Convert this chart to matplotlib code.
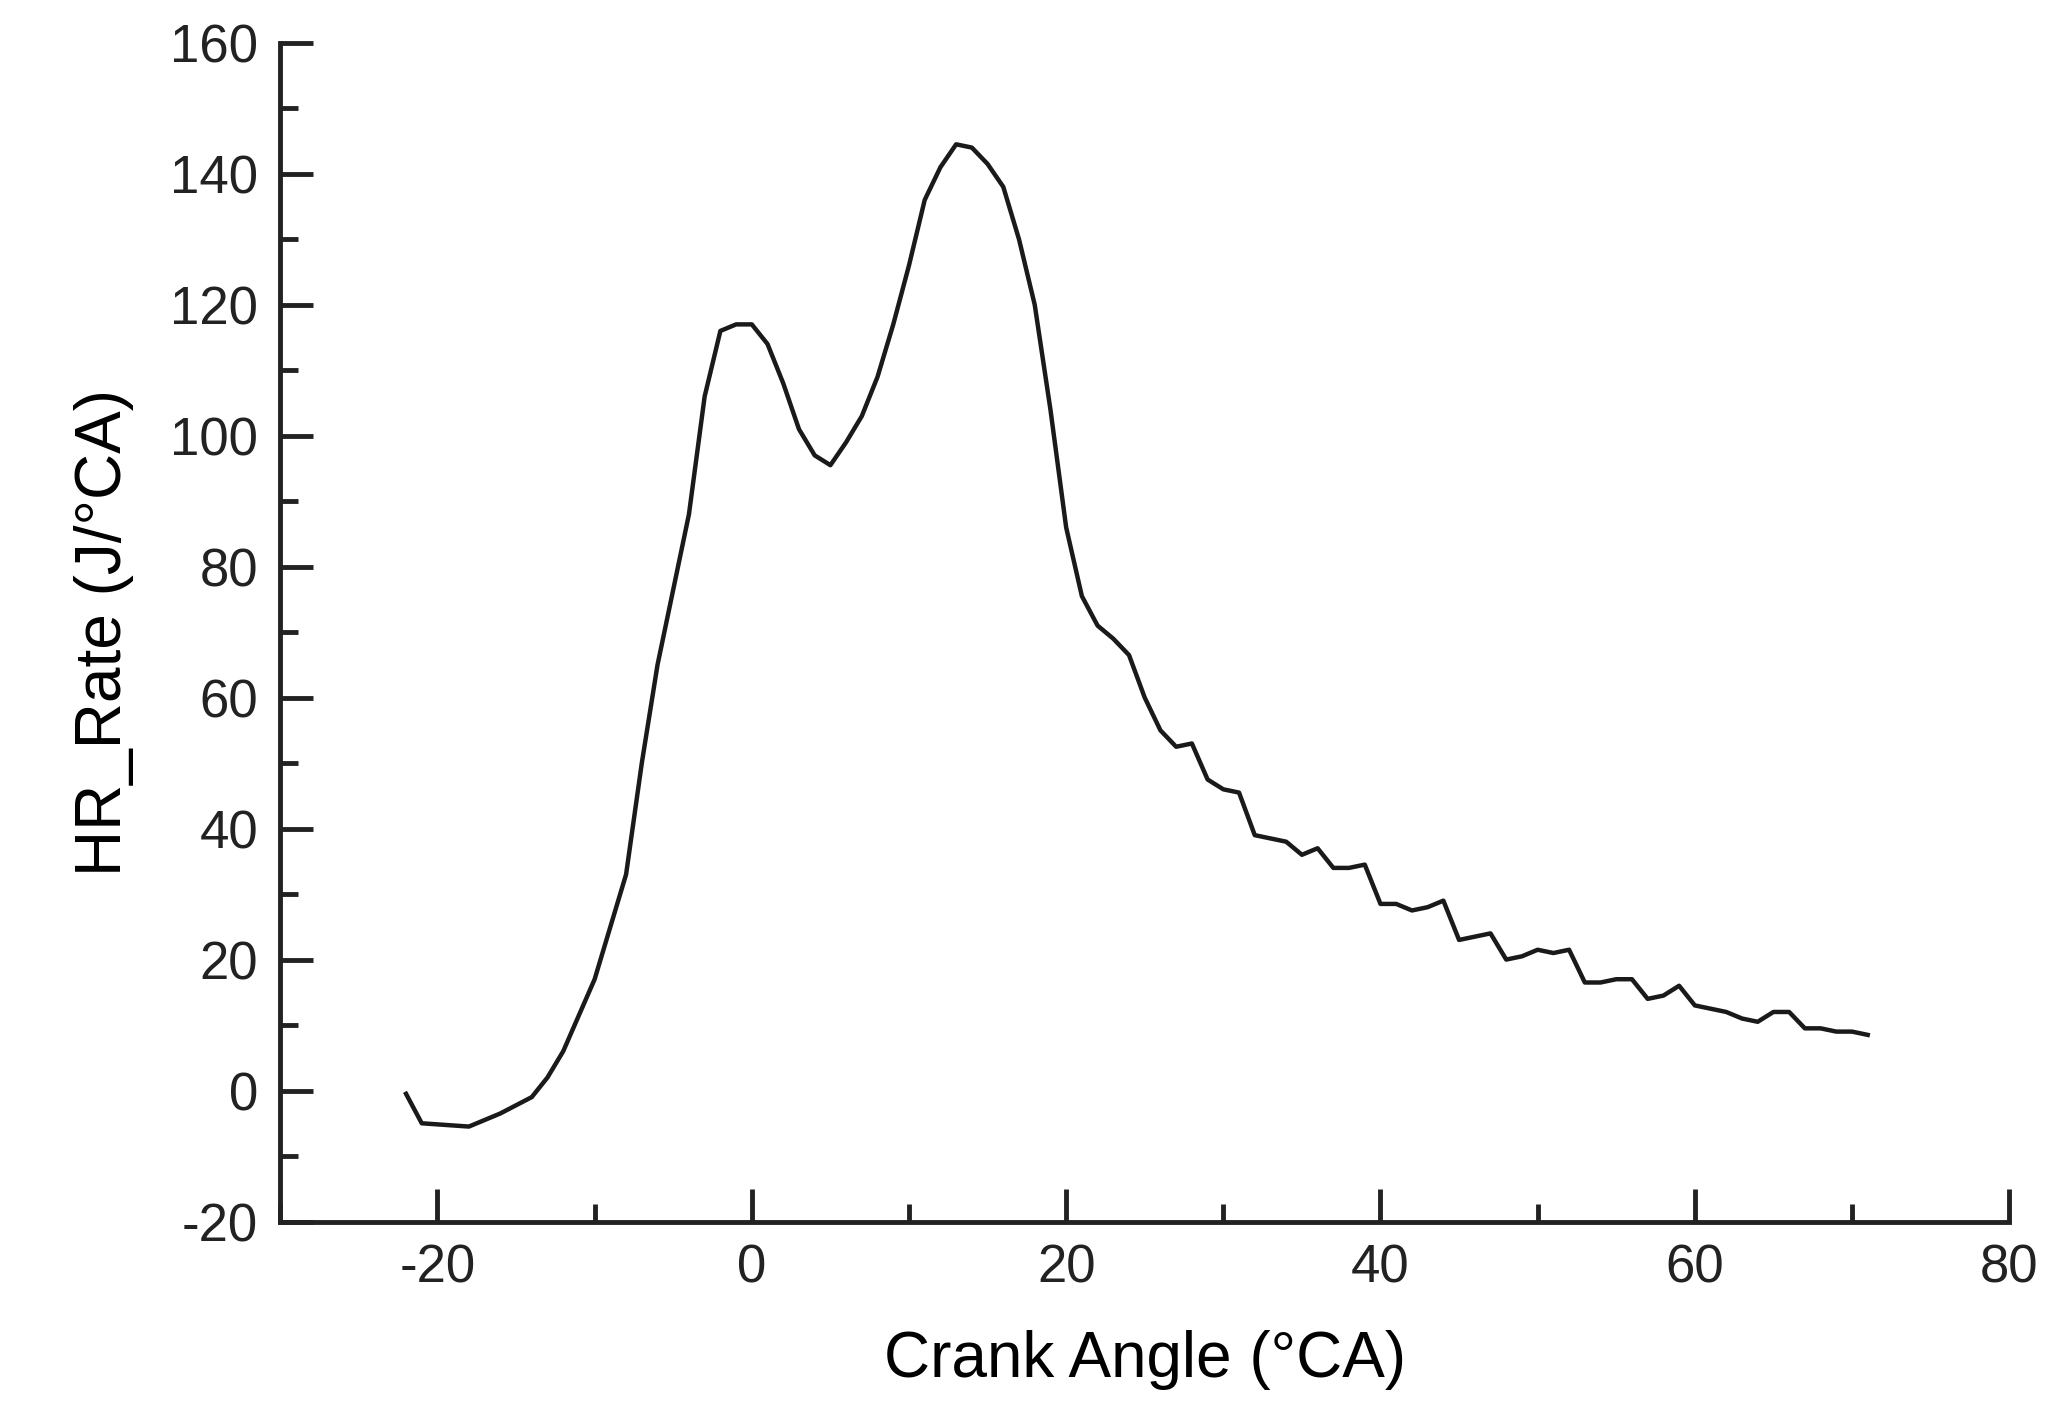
import matplotlib
matplotlib.use('Agg')
import matplotlib.pyplot as plt
from matplotlib.ticker import MultipleLocator

plt.rcParams.update({'font.family': 'Liberation Sans', 'axes.unicode_minus': False})

# Crank angle (deg CA) and heat release rate (J/deg CA)
crank_angle = [-22, -21, -18, -16, -14, -13, -12, -10, -8, -7, -6, -4, -3, -2, -1, 0,
               1, 2, 3, 4, 5, 6, 7, 8, 9, 10, 11, 12, 13, 14, 15, 16, 17, 18, 19, 20,
               21, 22, 23, 24, 25, 26, 27, 28, 29, 30, 31, 32, 33, 34, 35, 36, 37, 38,
               39, 40, 41, 42, 43, 44, 45, 46, 47, 48, 49, 50, 51, 52, 53, 54, 55, 56,
               57, 58, 59, 60, 61, 62, 63, 64, 65, 66, 67, 68, 69, 70, 71]
hr_rate = [-0.5, -5, -5.5, -3.5, -1, 2, 6, 17, 33, 50, 65, 88, 106, 116, 117, 117,
           114, 108, 101, 97, 95.5, 99, 103, 109, 117, 126, 136, 141, 144.5, 144, 141.5,
           138, 130, 120, 104, 86, 75.5, 71, 69, 66.5, 60, 55, 52.5, 53, 47.5, 46, 45.5,
           39, 38.5, 38, 36, 37, 34, 34, 34.5, 28.5, 28.5, 27.5, 28, 29, 23, 23.5, 24,
           20, 20.5, 21.5, 21, 21.5, 16.5, 16.5, 17, 17, 14, 14.5, 16, 13, 12.5, 12, 11,
           10.5, 12, 12, 9.5, 9.5, 9, 9, 8.5]

fig = plt.figure(figsize=(20.46, 14.27), dpi=100)
ax = fig.add_axes([0.137, 0.144, 0.845, 0.826])
ax.plot(crank_angle, hr_rate, color='#1a1a1a', linewidth=3.2)

ax.set_xlim(-30, 80)
ax.set_ylim(-20, 160)
ax.xaxis.set_major_locator(MultipleLocator(20))
ax.xaxis.set_minor_locator(MultipleLocator(10))
ax.yaxis.set_major_locator(MultipleLocator(20))
ax.yaxis.set_minor_locator(MultipleLocator(10))
ax.spines['top'].set_visible(False)
ax.spines['right'].set_visible(False)
for s in ('left', 'bottom'):
    ax.spines[s].set_linewidth(3.5)
    ax.spines[s].set_color('#222222')
ax.tick_params(which='major', direction='in', length=24, width=3.5, labelsize=38,
               pad=16, colors='#222222')
ax.tick_params(which='minor', direction='in', length=13, width=3.5, colors='#222222')

ax.set_xlabel('Crank Angle (°CA)', fontsize=46, labelpad=26)
ax.set_ylabel('HR_Rate (J/°CA)', fontsize=46, labelpad=26)

fig.savefig('out.png', dpi=100)
